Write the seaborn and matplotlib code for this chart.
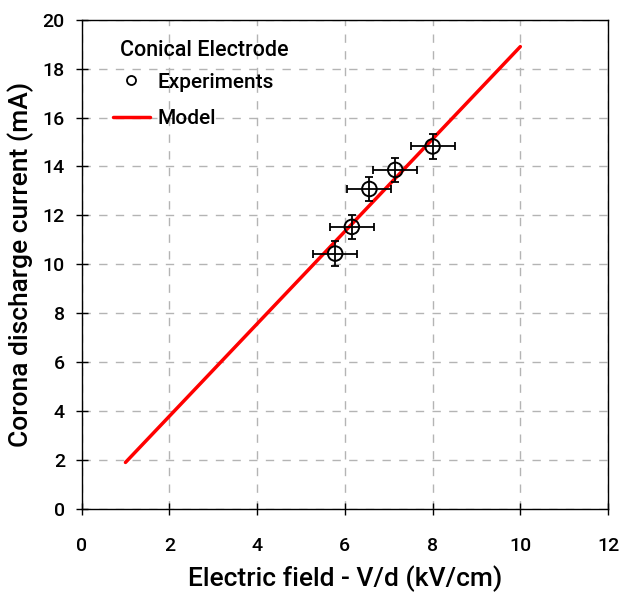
import matplotlib
matplotlib.use("Agg")
import matplotlib.pyplot as plt
import seaborn as sns
import pandas as pd
from matplotlib.lines import Line2D

# Data
exp_field = [5.78, 6.16, 6.56, 7.15, 8.00]
exp_current = [10.44, 11.53, 13.08, 13.86, 14.82]
exp_field_err = [0.5, 0.5, 0.5, 0.5, 0.5]
exp_current_err = [0.5, 0.5, 0.5, 0.5, 0.5]
model_field = [1.0, 10.0]
model_current = [1.9, 18.9]
x_ticks = [0, 2, 4, 6, 8, 10, 12]
y_ticks = [0, 2, 4, 6, 8, 10, 12, 14, 16, 18, 20]
legend_title = "Conical Electrode"
legend_labels = ["Experiments", "Model"]

sns.set_theme(style="ticks")
plt.rcParams['font.family'] = ['Roboto', 'DejaVu Sans']
plt.rcParams['font.weight'] = 'medium'
plt.rcParams['text.color'] = 'black'
plt.rcParams['axes.labelcolor'] = 'black'
plt.rcParams['axes.labelweight'] = 'medium'

fig = plt.figure(figsize=(6.23, 5.98), dpi=100)
ax = fig.add_axes([0.131, 0.149, 0.845, 0.818])

exp_df = pd.DataFrame({"field": exp_field, "current": exp_current})
model_df = pd.DataFrame({"field": model_field, "current": model_current})

ax.grid(True, color="#b4b4b4", linestyle=(0, (6, 6)), linewidth=1.0)
ax.set_axisbelow(True)

sns.lineplot(data=model_df, x="field", y="current", color="red", linewidth=2.5, ax=ax, zorder=2)
ax.errorbar(exp_field, exp_current, xerr=exp_field_err, yerr=exp_current_err,
            fmt="none", ecolor="black", elinewidth=1.3, capsize=3, capthick=1.3, zorder=3)
sns.scatterplot(data=exp_df, x="field", y="current", marker="o", s=110,
                facecolor="none", edgecolor="black", linewidth=1.4, ax=ax, zorder=4)

ax.set_xlim(0, 12)
ax.set_ylim(0, 20)
ax.set_xticks(x_ticks)
ax.set_yticks(y_ticks)
ax.tick_params(axis="both", direction="inout", length=8, width=1, labelsize=14, colors="black")
ax.tick_params(axis="x", pad=16)
ax.tick_params(axis="y", pad=8)
for lbl in ax.get_xticklabels() + ax.get_yticklabels():
    lbl.set_fontweight("medium")
for sp in ax.spines.values():
    sp.set_visible(True)
    sp.set_color("black")
    sp.set_linewidth(1.0)

ax.set_xlabel("Electric field - V/d (kV/cm)", fontsize=19, labelpad=8)
ax.set_ylabel("Corona discharge current (mA)", fontsize=19, labelpad=6)

handles = [
    Line2D([], [], linestyle="none", marker="o", markersize=6.5, markerfacecolor="none",
           markeredgecolor="black", markeredgewidth=1.3),
    Line2D([], [], color="red", linewidth=2.5),
]
leg = ax.legend(handles, legend_labels,
                loc="upper left", bbox_to_anchor=(0.043, 0.909), borderaxespad=0,
                frameon=False, handlelength=1.8, handletextpad=0.35, labelspacing=0.85,
                prop={"weight": "medium", "size": 15})
ax.text(0.073, 0.937, legend_title, transform=ax.transAxes, ha="left", va="center",
        fontsize=15.5, fontweight="medium", color="black")

fig.savefig("out.png", dpi=100)
